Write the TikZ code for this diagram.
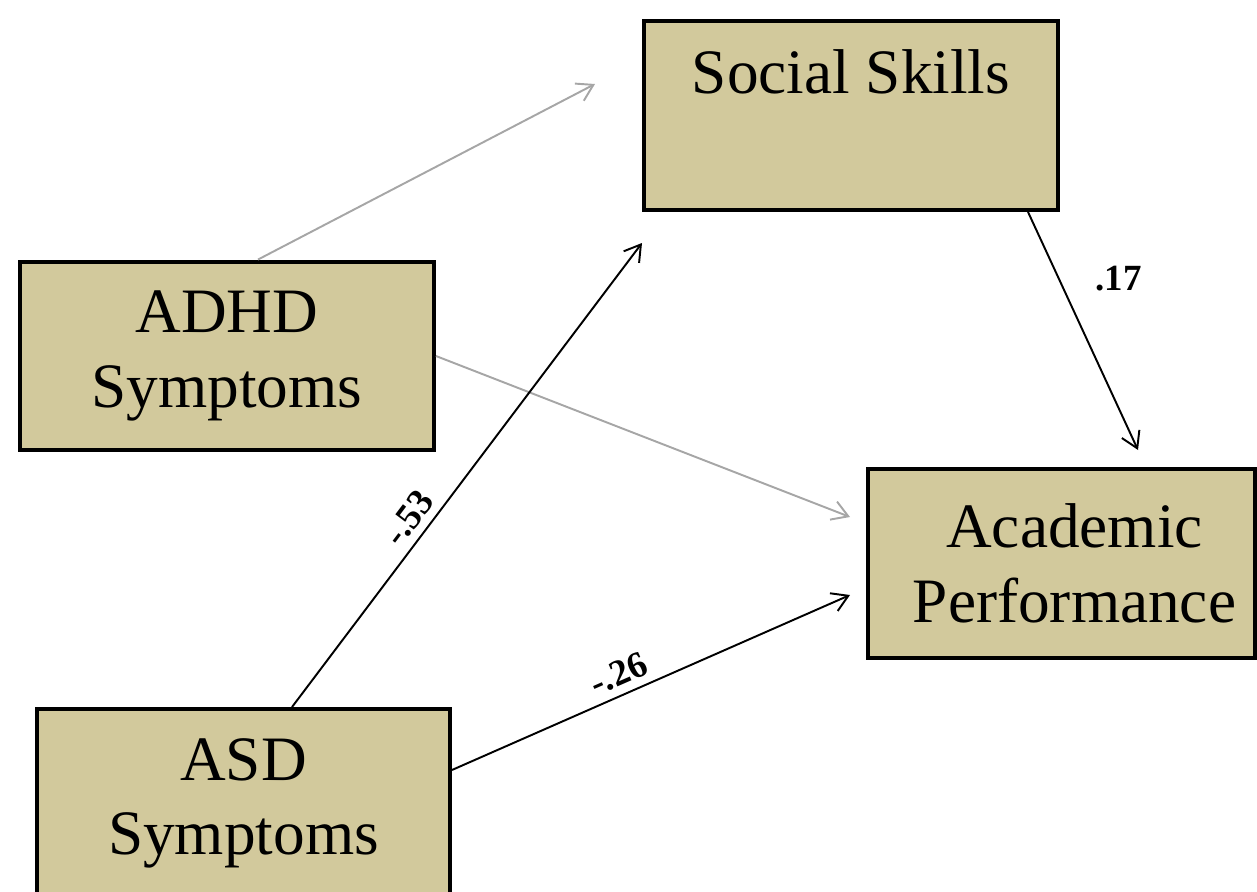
\documentclass[tikz,border=0pt]{standalone}
\usepackage{fontspec}
\setmainfont{Liberation Serif}
\usetikzlibrary{arrows.meta}
\definecolor{khaki}{HTML}{D2C99C}
\definecolor{lightpath}{HTML}{A6A6A6}
\begin{document}
\begin{tikzpicture}[
	box/.style={draw,fill=khaki,line width=2.5pt,minimum height=3.77cm,
		align=center,font=\fontsize{36}{42.5}\selectfont},
	weak/.style={draw=lightpath,line width=1.1pt,-{Straight Barb[length=9pt,width=11pt]}},
	strong/.style={draw,line width=1.1pt,-{Straight Barb[length=9pt,width=11pt]}},
	coef/.style={font=\fontsize{21}{24}\selectfont\bfseries}]
	\useasboundingbox (0,0) rectangle (25.14,-17.84);
	\clip (0,0) rectangle (25.14,-17.84);
	\foreach \x/\y/\w/\nm/\texn in {
		17.02/-2.31/8.27/ss/{Social Skills\\\phantom{Symptoms}},
		4.54/-7.12/8.27/adhd/{ADHD\\Symptoms},
		21.23/-11.27/7.73/ap/{\hspace*{0.52cm}Academic\\\hspace*{0.52cm}Performance},
		4.87/-16.07/8.25/asd/{ASD\\Symptoms}}
	\path (\x,\y) node[box,minimum width=\w cm](\nm){\texn};
	\coordinate (e1) at (11.9,-1.68);
	\coordinate (e2) at (17.0,-10.34);
	\coordinate (e3) at (12.84,-4.86);
	\coordinate (e4) at (17.0,-11.9);
	\coordinate (e5) at (22.76,-9.0);
	\draw[weak] ([xshift=0.62cm]adhd.north)--(e1);
	\draw[weak] (adhd.east)--(e2);
	\draw[strong] ([xshift=0.97cm]asd.north)--(e3)
	node[coef,sloped,above=1pt,pos=0.38]{-.53};
	\draw[strong] ([yshift=0.67cm]asd.east)--(e4)
	node[coef,sloped,above=1pt,pos=0.44]{-.26};
	\draw[strong] ([xshift=3.54cm]ss.south)--(e5)
	node[coef,right=0.6cm,pos=0.28]{.17};
\end{tikzpicture}
\end{document}
